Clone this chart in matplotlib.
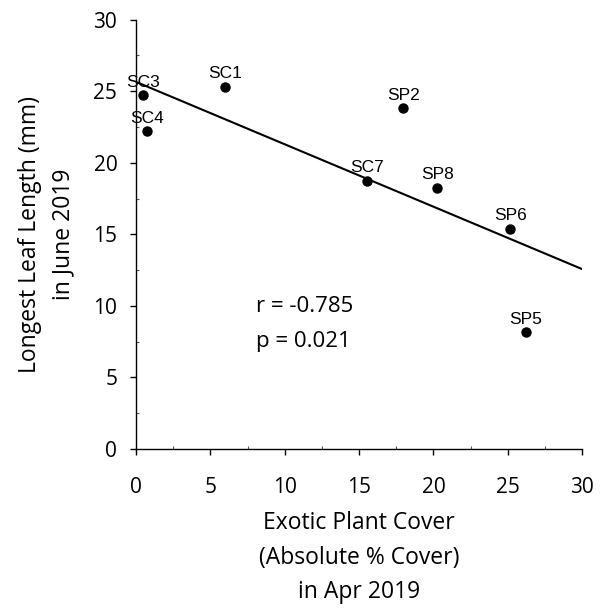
import matplotlib
matplotlib.use("Agg")
import matplotlib.pyplot as plt
from matplotlib.ticker import MultipleLocator

# Data
sites = ["SC3", "SC4", "SC1", "SP2", "SC7", "SP8", "SP6", "SP5"]
exotic_cover = [0.45, 0.72, 6.0, 17.97, 15.52, 20.27, 25.18, 26.2]
leaf_length = [24.7, 22.2, 25.3, 23.8, 18.74, 18.25, 15.38, 8.17]
trend_x = [0, 30]
trend_y = [25.65, 12.57]
r_text = "r = -0.785"
p_text = "p = 0.021"

main_font = "Open Sans"

fig = plt.figure(figsize=(6.02, 6.13), dpi=100)
ax = fig.add_axes([0.226, 0.2675, 0.741, 0.7005])

ax.plot(trend_x, trend_y, color="black", linewidth=1.5)
ax.plot(exotic_cover, leaf_length, "o", color="black", markersize=6.5)

for name, x, y in zip(sites, exotic_cover, leaf_length):
    ax.annotate(name, (x, y), xytext=(0, 4), textcoords="offset points",
                ha="center", va="bottom", fontsize=12.5, family="Liberation Sans")

# correlation stats
ax.text(8.05, 9.57, r_text, fontsize=16, family=main_font, va="baseline", ha="left")
ax.text(8.05, 7.14, p_text, fontsize=16, family=main_font, va="baseline", ha="left")

ax.set_xlim(0, 30)
ax.set_ylim(0, 30)
ax.xaxis.set_major_locator(MultipleLocator(5))
ax.yaxis.set_major_locator(MultipleLocator(5))
ax.xaxis.set_minor_locator(MultipleLocator(2.5))
ax.yaxis.set_minor_locator(MultipleLocator(2.5))
ax.tick_params(which="major", direction="out", length=4.5, width=1, labelsize=15)
ax.tick_params(axis="x", which="major", pad=15.5)
ax.tick_params(axis="y", which="major", pad=9)
ax.tick_params(which="minor", direction="in", length=2.5, width=0.8, color="#555555")
for lbl in ax.get_xticklabels() + ax.get_yticklabels():
    lbl.set_family(main_font)

for s in ["top", "right"]:
    ax.spines[s].set_visible(False)
for s in ["left", "bottom"]:
    ax.spines[s].set_linewidth(1)

ax.set_xlabel("Exotic Plant Cover\n(Absolute % Cover)\nin Apr 2019",
              fontsize=16.5, family=main_font, linespacing=1.6)
ax.set_ylabel("Longest Leaf Length (mm)\nin June 2019",
              fontsize=16.5, family=main_font, linespacing=1.5)
ax.xaxis.set_label_coords(0.5, -0.144)
ax.yaxis.set_label_coords(-0.136, 0.5)

fig.savefig("out.png", dpi=100)
